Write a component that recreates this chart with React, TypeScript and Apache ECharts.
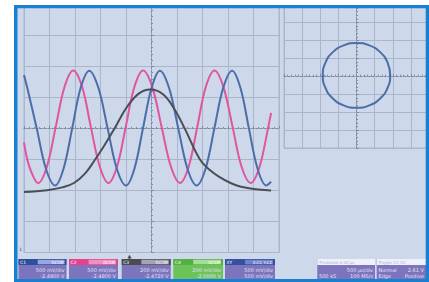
import React, { useEffect, useRef } from "react";
import * as echarts from "echarts";

// ---- Data (x in divisions from screen centre, y in divisions) ----
const pinkTrace: [number, number][] = [
  [-5, -0.45], [-4.79, -1.23], [-4.44, -1.76], [-4.1, -1.23], [-3.755, 0.05], [-3.41, 1.34],
  [-3.07, 1.87], [-2.72, 1.34], [-2.38, 0.05], [-2.03, -1.23], [-1.69, -1.76], [-1.35, -1.23],
  [-1.01, 0.05], [-0.67, 1.34], [-0.33, 1.87], [0.03, 1.34], [0.395, 0.05], [0.76, -1.23],
  [1.12, -1.76], [1.46, -1.23], [1.795, 0.05], [2.13, 1.34], [2.47, 1.87], [2.82, 1.34],
  [3.18, 0.05], [3.53, -1.23], [3.89, -1.76], [4.24, -1.23], [4.58, 0.05], [4.69, 0.5],
];
const blueTrace: [number, number][] = [
  [-5, 1.72], [-4.87, 1.3], [-4.5, 0], [-4.14, -1.3], [-3.78, -1.84], [-3.45, -1.3],
  [-3.11, 0], [-2.78, 1.3], [-2.44, 1.86], [-2.08, 1.3], [-1.72, 0], [-1.36, -1.3],
  [-1.0, -1.84], [-0.67, -1.3], [-0.335, 0], [0.0, 1.3], [0.33, 1.86], [0.69, 1.3],
  [1.05, 0], [1.41, -1.3], [1.77, -1.84], [2.12, -1.3], [2.465, 0], [2.81, 1.3],
  [3.16, 1.86], [3.49, 1.3], [3.82, 0], [4.16, -1.3], [4.5, -1.84], [4.69, -1.72],
];
const grayTrace: [number, number][] = [
  [-5, -2.05], [-4.1, -1.99], [-3.5, -1.9], [-3.04, -1.76], [-2.6, -1.45], [-2.25, -1.05],
  [-1.85, -0.55], [-1.45, 0.0], [-0.97, 0.68], [-0.5, 1.12], [-0.05, 1.25], [0.45, 1.1],
  [0.9, 0.62], [1.3, 0.0], [1.9, -1.0], [2.3, -1.35], [2.69, -1.58], [3.1, -1.76],
  [3.47, -1.87], [4.0, -1.95], [4.69, -2.0],
];
const xyTrace: [number, number][] = [
  [1.86, 0.05], [1.72, 0.74], [1.32, 1.33], [0.71, 1.72], [0, 1.86], [-0.71, 1.72],
  [-1.32, 1.33], [-1.72, 0.74], [-1.86, 0.05], [-1.72, -0.64], [-1.32, -1.23], [-0.71, -1.62],
  [0, -1.76], [0.71, -1.62], [1.32, -1.23], [1.72, -0.64], [1.86, 0.05], [1.72, 0.74],
];

// ---- Status bar texts ----
const channelNames = ["C1", "C2", "C3", "C4", "XY"];
const channelTags = ["DC1M", "DC1M", "DC1M", "DC1M", "X:C1 Y:C2"];
const channelScales = ["500 mV/div", "500 mV/div", "200 mV/div", "200 mV/div", "500 mV/div"];
const channelOffsets = ["-2.4800 V", "-2.4800 V", "-2.4720 V", "-2.0000 V", "500 mV/div"];
const timebaseTexts = ["Timebase 0.00 µs", "500 µs/div", "500 kS", "100 MS/s"];
const triggerTexts = ["Trigger C1 DC", "Normal", "2.61 V", "Edge", "Positive"];

const FONT = "DejaVu Sans";
const GRID_COLOR = "#aab6cb";
const CENTER_COLOR = "#7f8ba1";

function axis(gridIndex: number, min: number, max: number) {
  return {
    type: "value" as const,
    gridIndex,
    min,
    max,
    interval: 1,
    axisLabel: { show: false },
    axisLine: { show: true, onZero: true, lineStyle: { color: CENTER_COLOR, type: [2, 2], width: 1 } },
    axisTick: { show: true, inside: true, length: 2.5, lineStyle: { color: CENTER_COLOR } },
    minorTick: { show: true, splitNumber: 5, length: 1.5, lineStyle: { color: CENTER_COLOR } },
    splitLine: { show: true, lineStyle: { color: GRID_COLOR, width: 1 } },
  };
}

function txt(x: number, y: number, text: string, size: number, fill: string, align = "left") {
  return {
    type: "text",
    x,
    y,
    z: 95,
    silent: true,
    style: {
      text,
      fill,
      fontSize: size,
      fontFamily: FONT,
      align,
      textAlign: align,
      verticalAlign: "middle",
      textVerticalAlign: "middle",
    },
  };
}

function rect(x: number, y: number, w: number, h: number, fill: string, z = 90) {
  return { type: "rect", z, silent: true, shape: { x, y, width: w, height: h }, style: { fill } };
}

function buildGraphics() {
  const els: any[] = [];
  // white page margins
  els.push(rect(0, 0, 429, 5, "#ffffff", 100));
  els.push(rect(0, 0, 14, 282, "#ffffff", 100));
  // blue frame
  const frame = "#1780d2";
  els.push(rect(14, 5, 415, 3.3, frame, 101));
  els.push(rect(14, 5, 3.5, 277, frame, 101));
  els.push(rect(425.7, 5, 3.3, 277, frame, 101));
  els.push(rect(14, 279, 415, 3, frame, 101));

  // channel boxes
  const boxX = [18.5, 69, 121.7, 173.3, 225];
  const boxW = [48, 49, 49, 49.7, 50];
  const head = ["#2d4f9e", "#e6418c", "#4b4b50", "#55b043", "#37509e"];
  const label = ["#9aa6e0", "#f18fbd", "#a4a4b4", "#a8dc98", "#6f82c8"];
  const body = ["#7c74bc", "#7c74bc", "#7c74bc", "#6cc35a", "#7c74bc"];
  for (let i = 0; i < 5; i++) {
    const x = boxX[i];
    const w = boxW[i];
    els.push(rect(x, 259, w, 21, body[i], 90));
    els.push(rect(x, 259, w, 6, head[i], 91));
    els.push(rect(x + w * 0.4, 259.7, w * 0.56, 4.6, label[i], 92));
    els.push(txt(x + 1.5, 262, channelNames[i], 4.5, "#ffffff"));
    els.push(txt(x + w - 3, 262, channelTags[i], 4, "#ffffff", "right"));
    els.push(txt(x + w - 2, 269.5, channelScales[i], 5, "#e4e2f6", "right"));
    els.push(txt(x + w - 2, 275.8, channelOffsets[i], 5, "#e4e2f6", "right"));
  }
  // timebase box
  els.push(rect(317.3, 259, 57.7, 21, "#7c74bc", 90));
  els.push(rect(317.3, 259, 57.7, 6, "#eef0fa", 91));
  els.push(txt(319, 262, timebaseTexts[0], 4, "#b0b4d0"));
  els.push(txt(373, 269.5, timebaseTexts[1], 5, "#e4e2f6", "right"));
  els.push(txt(319, 275.8, timebaseTexts[2], 5, "#e4e2f6"));
  els.push(txt(373, 275.8, timebaseTexts[3], 5, "#e4e2f6", "right"));
  // trigger box
  els.push(rect(376.7, 259, 50, 21, "#7c74bc", 90));
  els.push(rect(376.7, 259, 50, 6, "#eef0fa", 91));
  els.push(txt(378.5, 262, triggerTexts[0], 4, "#b0b4d0"));
  els.push(txt(378.5, 269.5, triggerTexts[1], 5, "#e4e2f6"));
  els.push(txt(424, 269.5, triggerTexts[2], 5, "#e4e2f6", "right"));
  els.push(txt(378.5, 275.8, triggerTexts[3], 5, "#e4e2f6"));
  els.push(txt(424, 275.8, triggerTexts[4], 5, "#e4e2f6", "right"));
  // markers
  els.push(txt(127.5, 255.8, "▲", 5, "#3a3f50"));
  els.push(txt(19.2, 249.5, "1", 4.5, "#3a3f50"));
  return els;
}

export default function App() {
  const ref = useRef<HTMLDivElement>(null);
  useEffect(() => {
    if (!ref.current) return;
    const chart = echarts.init(ref.current, undefined, { renderer: "svg" });
    const line = (data: [number, number][], color: string, xi: number, smooth: number) => ({
      type: "line",
      xAxisIndex: xi,
      yAxisIndex: xi,
      data,
      smooth,
      symbol: "none",
      silent: true,
      clip: false,
      lineStyle: { color, width: 2 },
      z: 5,
    });
    chart.setOption({
      animation: false,
      backgroundColor: "#cdd8eb",
      textStyle: { fontFamily: FONT },
      grid: [
        { left: 24, top: 4.3, width: 255, height: 248.2, show: true, borderColor: GRID_COLOR, borderWidth: 1, backgroundColor: "transparent" },
        { left: 284, top: 4.5, width: 146.4, height: 143.5, show: true, borderColor: GRID_COLOR, borderWidth: 1, backgroundColor: "transparent" },
      ],
      xAxis: [axis(0, -5, 5), axis(1, -4, 4)],
      yAxis: [axis(0, -4, 4), axis(1, -4, 4)],
      series: [
        line(pinkTrace, "#e0559d", 0, 0.35),
        line(blueTrace, "#4c6ea8", 0, 0.35),
        line(grayTrace, "#4a4e56", 0, 0.4),
        line(xyTrace, "#4c6ea8", 1, 0.5),
      ],
      graphic: { elements: buildGraphics() },
    });
    return () => chart.dispose();
  }, []);
  return <div ref={ref} style={{ position: "fixed", left: 0, top: 0, width: 429, height: 282 }} />;
}
